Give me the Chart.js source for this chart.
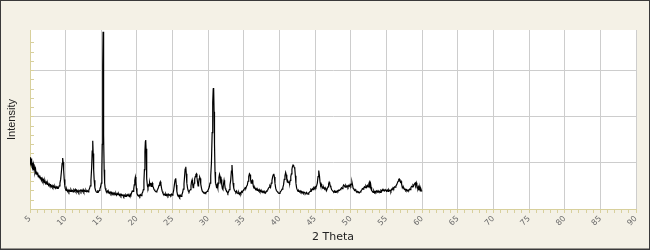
<!DOCTYPE html>
<html>
<head>
<meta charset="utf-8">
<script src="https://cdn.jsdelivr.net/npm/chart.js@4/dist/chart.umd.min.js"></script>
<style>
html,body{margin:0;padding:0;background:#F4F1E6;}
canvas{display:block;}
</style>
</head>
<body>
<canvas id="c" width="650" height="250"></canvas>
<script>
// 2-theta positions (degrees)
const twoTheta = [
5.00,5.05,5.10,5.15,5.20,5.25,5.30,5.35,5.40,5.48,5.55,5.62,5.70,5.78,5.85,5.93,6.00,6.08,6.15,6.23,6.30,6.38,6.45,6.53,6.60,6.70,6.80,6.90,7.00,7.10,7.20,7.30,7.40,7.50,7.60,7.70,7.80,7.90,8.00,8.10,8.20,8.30,8.40,8.50,8.60,8.70,8.80,8.90,9.00,9.10,9.20,9.30,9.40,9.50,9.58,9.65,9.72,9.80,9.88,9.95,
10.05,10.15,10.25,10.35,10.45,10.55,10.65,10.75,10.85,10.95,11.05,11.15,11.25,11.35,11.45,11.55,11.65,11.75,11.85,11.95,12.05,12.15,12.25,12.35,12.45,12.55,12.65,12.75,12.85,12.95,13.05,13.15,13.25,13.35,13.45,13.55,13.65,13.72,13.80,13.86,13.93,14.00,14.10,14.20,14.30,14.40,14.50,14.60,14.70,14.80,14.90,
15.00,15.08,15.14,15.20,15.25,15.30,15.35,15.40,15.47,15.55,15.65,15.75,15.85,15.95,16.05,16.15,16.25,16.35,16.45,16.55,16.65,16.75,16.85,16.95,17.05,17.15,17.25,17.35,17.45,17.55,17.65,17.75,17.85,17.95,18.05,18.15,18.25,18.35,18.45,18.55,18.65,18.75,18.85,18.95,19.05,19.15,19.25,19.35,19.45,19.55,19.62,19.70,19.78,19.85,19.92,
20.00,20.10,20.20,20.30,20.40,20.50,20.60,20.70,20.80,20.90,20.98,21.05,21.12,21.18,21.23,21.28,21.34,21.40,21.47,21.55,21.63,21.70,21.78,21.85,21.92,22.00,22.08,22.15,22.22,22.30,22.40,22.50,22.60,22.70,22.80,22.90,23.00,23.10,23.20,23.28,23.36,23.45,23.55,23.65,23.75,23.85,23.95,24.05,24.15,24.25,24.35,24.45,24.55,24.65,24.75,24.85,24.95,
25.05,25.15,25.25,25.35,25.44,25.52,25.60,25.70,25.80,25.90,26.00,26.10,26.20,26.30,26.40,26.50,26.60,26.68,26.76,26.85,26.92,27.00,27.10,27.20,27.30,27.40,27.50,27.58,27.66,27.74,27.80,27.88,27.95,28.02,28.10,28.18,28.26,28.34,28.42,28.50,28.58,28.65,28.72,28.80,28.88,28.95,29.05,29.15,29.25,29.35,29.45,29.55,29.65,29.75,29.85,29.95,
30.05,30.15,30.25,30.35,30.45,30.55,30.63,30.70,30.76,30.82,30.88,30.95,31.02,31.10,31.18,31.26,31.34,31.42,31.50,31.58,31.66,31.74,31.82,31.90,31.98,32.06,32.14,32.22,32.30,32.38,32.46,32.55,32.65,32.75,32.85,32.95,33.05,33.15,33.25,33.33,33.40,33.48,33.58,33.68,33.78,33.88,33.98,34.08,34.18,34.28,34.38,34.48,34.58,34.68,34.78,34.88,34.98,
35.08,35.18,35.28,35.38,35.48,35.58,35.68,35.78,35.86,35.94,36.02,36.10,36.18,36.26,36.34,36.44,36.54,36.64,36.74,36.84,36.94,37.04,37.14,37.24,37.34,37.44,37.54,37.64,37.74,37.84,37.94,38.04,38.14,38.24,38.34,38.44,38.54,38.64,38.74,38.84,38.94,39.04,39.12,39.20,39.28,39.36,39.46,39.56,39.66,39.76,39.86,39.96,
40.06,40.16,40.26,40.36,40.46,40.56,40.66,40.76,40.86,40.94,41.02,41.10,41.18,41.26,41.34,41.42,41.50,41.58,41.66,41.74,41.82,41.90,41.98,42.06,42.14,42.22,42.30,42.40,42.50,42.60,42.70,42.80,42.90,43.00,43.10,43.20,43.30,43.40,43.50,43.60,43.70,43.80,43.90,44.00,44.10,44.20,44.30,44.40,44.50,44.60,44.70,44.80,44.90,
45.00,45.10,45.20,45.30,45.40,45.47,45.53,45.60,45.68,45.76,45.84,45.92,46.00,46.10,46.20,46.30,46.40,46.50,46.60,46.70,46.80,46.88,46.96,47.04,47.12,47.20,47.30,47.40,47.50,47.60,47.70,47.80,47.90,48.00,48.10,48.20,48.30,48.40,48.50,48.60,48.70,48.80,48.90,49.00,49.10,49.20,49.30,49.40,49.50,49.60,49.70,49.80,49.90,
50.00,50.08,50.16,50.24,50.32,50.42,50.52,50.62,50.72,50.82,50.92,51.02,51.12,51.22,51.32,51.42,51.52,51.62,51.72,51.82,51.92,52.02,52.12,52.22,52.32,52.42,52.52,52.60,52.68,52.76,52.84,52.92,53.02,53.12,53.22,53.32,53.42,53.52,53.62,53.72,53.82,53.92,54.02,54.12,54.22,54.32,54.42,54.52,54.62,54.72,54.82,54.92,
55.02,55.12,55.22,55.32,55.42,55.52,55.62,55.72,55.82,55.92,56.02,56.12,56.22,56.32,56.42,56.52,56.62,56.72,56.80,56.88,56.96,57.04,57.12,57.22,57.32,57.42,57.52,57.62,57.72,57.82,57.92,58.02,58.12,58.22,58.32,58.42,58.52,58.62,58.72,58.82,58.92,59.02,59.10,59.18,59.26,59.34,59.42,59.50,59.58,59.66,59.74,59.82,59.90,60.00
];
// intensity (counts)
const intensity = [
1015,1120,980,1090,940,1060,900,1000,870,960,840,900,800,860,760,810,740,790,700,740,680,720,650,690,620,660,600,630,570,610,550,580,530,560,510,540,500,520,480,510,470,500,460,490,450,480,445,470,455,500,560,640,800,980,1100,1010,840,640,500,440,
400,430,380,410,370,405,380,420,385,400,370,415,390,425,380,405,370,400,360,395,410,375,405,380,420,370,400,380,410,375,395,370,410,440,500,620,900,1250,1475,1200,850,620,460,400,370,360,385,370,400,430,480,
560,800,1400,3100,3830,2900,1600,850,560,450,400,370,390,350,375,340,365,330,360,320,350,325,345,310,340,300,335,310,330,295,320,285,315,290,305,270,300,275,305,280,310,285,300,275,320,300,350,390,380,430,520,620,690,600,450,
340,300,280,300,275,310,290,330,360,420,600,850,1250,1450,1490,1300,950,650,500,460,520,500,570,520,560,490,540,560,490,470,420,400,380,370,390,420,460,510,560,590,540,450,380,340,310,320,295,325,290,315,285,320,295,310,290,320,300,
330,400,520,630,665,520,380,300,270,300,260,295,270,310,350,430,540,700,860,915,760,560,450,390,370,400,420,500,590,630,560,460,490,560,650,700,740,760,680,580,500,560,650,690,660,540,450,390,370,355,340,360,345,365,380,400,
430,480,560,720,1000,1650,2300,2600,2614,2100,1400,800,560,520,450,520,460,560,680,750,700,600,640,520,440,420,540,620,540,450,420,400,370,340,370,420,520,620,820,950,780,560,450,400,380,360,390,345,330,360,320,350,330,380,360,400,420,
430,460,450,490,520,600,700,760,740,640,560,600,620,560,480,450,460,420,440,400,420,390,420,380,400,370,390,360,380,350,370,345,380,400,410,450,470,500,470,560,620,700,740,760,690,560,450,400,380,360,345,335,
355,380,400,430,460,520,640,720,790,740,640,580,600,570,580,560,620,700,760,860,920,950,930,900,870,720,560,450,410,380,395,370,390,360,380,350,370,340,360,345,335,360,330,320,350,365,380,420,400,440,420,460,440,
480,460,500,560,700,800,830,720,580,520,540,500,480,450,470,430,460,420,400,440,480,540,580,550,500,470,420,400,380,370,390,360,380,370,395,380,410,400,420,440,460,440,490,520,500,470,510,480,500,470,510,490,530,
500,540,580,520,450,430,400,420,390,370,380,355,365,350,370,390,410,440,430,460,480,460,500,470,510,480,540,580,520,560,470,400,380,360,390,350,380,360,390,365,395,370,380,360,400,380,420,395,410,390,420,400,
385,410,380,420,395,405,380,430,420,460,440,480,470,500,520,560,600,640,650,620,580,600,540,480,450,460,420,430,400,420,390,410,400,430,420,460,490,480,520,500,540,560,520,570,520,460,440,480,420,450,390,440,400,380
];
// axis ranges and steps
const xRange = [5, 90];
const xMinorStep = 1;
const xMajorStep = 5;
const yRange = [0, 3870];
const yMinorStep = 200;
const yMajorStep = 1000;

const GRID = '#cdcdcd';
const AXIS = '#D8D09C';
const NONE = 'rgba(0,0,0,0)';

const framePlugin = {
  id: 'frame',
  beforeDraw(chart) {
    const {ctx, chartArea: a, width, height} = chart;
    ctx.save();
    ctx.fillStyle = '#F4F1E6';
    ctx.fillRect(0, 0, width, height);
    ctx.fillStyle = '#ffffff';
    ctx.fillRect(a.left, a.top, a.right - a.left, a.bottom - a.top);
    ctx.restore();
  },
  beforeDatasetsDraw(chart) {
    const {ctx, chartArea: a} = chart;
    const ys = chart.scales.y;
    ctx.save();
    ctx.strokeStyle = AXIS;
    ctx.lineWidth = 1;
    ctx.beginPath();
    ys.ticks.forEach(t => {
      if (t.value % yMinorStep !== 0 || t.value === 0) return;
      const p = Math.round(ys.getPixelForValue(t.value)) + 0.5;
      ctx.moveTo(a.left, p);
      ctx.lineTo(a.left + 4, p);
    });
    ctx.stroke();
    ctx.restore();
  },
  afterDraw(chart) {
    const {ctx, width, height} = chart;
    ctx.save();
    ctx.strokeStyle = '#3a3a3a';
    ctx.lineWidth = 1;
    ctx.strokeRect(0.5, 0.5, width - 1, height - 1.5);
    ctx.beginPath();
    ctx.moveTo(0, height - 0.5);
    ctx.lineTo(width, height - 0.5);
    ctx.stroke();
    ctx.restore();
  }
};

new Chart(document.getElementById('c'), {
  type: 'line',
  data: {
    datasets: [{
      data: twoTheta.map((x, i) => ({x: x, y: intensity[i]})),
      borderColor: '#000000',
      borderWidth: 1.2,
      pointRadius: 0,
      tension: 0,
      fill: false
    }]
  },
  options: {
    responsive: false,
    animation: false,
    layout: {padding: {top: 30, right: 14, bottom: 0, left: 0}},
    plugins: {legend: {display: false}, tooltip: {enabled: false}},
    scales: {
      x: {
        type: 'linear',
        min: xRange[0], max: xRange[1],
        afterFit: s => { s.height = 41; },
        ticks: {
          stepSize: xMinorStep,
          autoSkip: false,
          minRotation: 45, maxRotation: 45,
          padding: 1,
          color: '#6a6a6a',
          font: {family: 'DejaVu Sans', size: 8},
          callback: v => (v % xMajorStep === 0 ? String(v) : '')
        },
        grid: {
          color: c => (c.tick && c.tick.value % xMajorStep === 0 && c.tick.value > xRange[0]) ? GRID : NONE,
          tickColor: AXIS,
          tickLength: 4,
          lineWidth: 1
        },
        border: {color: AXIS, width: 1},
        title: {
          display: true, text: '2 Theta', color: '#222222',
          font: {family: 'DejaVu Sans', size: 11},
          padding: {top: 0, bottom: 6}
        }
      },
      y: {
        min: yRange[0], max: yRange[1],
        afterFit: s => { s.width = 30; },
        ticks: {display: false, stepSize: yMinorStep},
        grid: {
          color: c => (c.tick && c.tick.value % yMajorStep === 0 && c.tick.value > 0) ? GRID : NONE,
          drawTicks: false,
          lineWidth: 1
        },
        border: {color: AXIS, width: 1},
        title: {
          display: true, text: 'Intensity', color: '#222222',
          font: {family: 'Liberation Sans', size: 11},
          padding: {top: 5, bottom: 0}
        }
      }
    }
  },
  plugins: [framePlugin]
});
</script>
</body>
</html>
